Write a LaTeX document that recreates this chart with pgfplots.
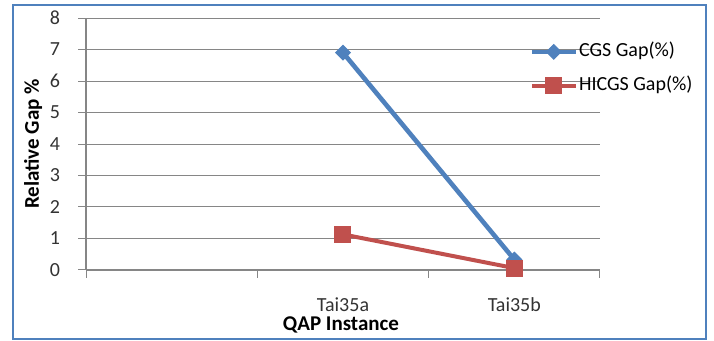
\documentclass[border=0pt]{standalone}
\usepackage{fontspec}
\setmainfont{Carlito}
\usepackage{pgfplots}
\pgfplotsset{compat=1.18}
\definecolor{cgsblue}{HTML}{4F81BD}
\definecolor{hicgsred}{HTML}{C0504D}
\definecolor{gridgray}{RGB}{134,134,134}
\definecolor{framecol}{HTML}{4F81BD}
\newcommand{\chartfont}{\fontsize{10}{12}\selectfont}
\newcommand{\labelfont}{\fontsize{10.5}{12.6}\selectfont\bfseries}
\begin{document}
\begin{tikzpicture}
% page extent and outer frame (units of 0.5pt)
\begin{scope}[x=0.5pt,y=0.5pt]
  \path (0,0) rectangle (714,341);
  \draw[framecol, line width=1pt] (13,2) rectangle (706,336);
\end{scope}
\begin{axis}[
  at={(43pt,35.5pt)}, anchor=south west,
  scale only axis, width=257pt, height=126pt,
  xmin=0.5, xmax=3.5, ymin=0, ymax=8,
  axis x line*=bottom, axis y line*=left,
  axis line style={gridgray, line width=0.6pt},
  tick align=outside,
  ytick={0,1,...,8},
  ymajorgrids, grid style={gridgray, line width=0.5pt},
  xtick={0.5,1.5,2.5,3.5}, xticklabels={,,,},
  extra x ticks={2,3}, extra x tick labels={Tai35a,Tai35b},
  extra x tick style={major tick length=0pt},
  major tick length=4pt,
  tick style={gridgray, line width=0.5pt},
  /pgf/number format/assume math mode=true,
  tick label style={font=\chartfont, text=black!80},
  yticklabel style={xshift=-5.5pt},
  xticklabel style={yshift=-10.5pt},
  xlabel={QAP Instance}, ylabel={Relative Gap \%},
  label style={font=\labelfont},
  xlabel style={at={(axis description cs:0.496,-0.218)}, anchor=center},
  ylabel style={at={(axis description cs:-0.103,0.5)}, anchor=center},
  legend style={draw=none, fill=none, font=\chartfont,
    at={(axis description cs:0.862,0.915)}, anchor=north west,
    inner sep=0pt, row sep=5pt,
    nodes={inner sep=0.5pt, text height=8pt, text depth=3pt}},
  legend cell align=left,
  legend image code/.code={
    \draw[#1] (0pt,0pt) -- (22pt,0pt);
    \draw[#1] plot coordinates {(11pt,0pt)};
  },
]
\addplot[cgsblue, line width=2.3pt, mark=square*, mark size=2.6pt,
  mark options={rotate=45, line width=0.5pt, fill=cgsblue}]
  coordinates {(2,6.9) (3,0.33)};
\addlegendentry{CGS Gap(\%)}
\addplot[hicgsred, line width=2pt, mark=square*, mark size=4pt,
  mark options={line width=0.5pt, fill=hicgsred}]
  coordinates {(2,1.13) (3,0.06)};
\addlegendentry{HICGS Gap(\%)}
\end{axis}
\end{tikzpicture}
\end{document}
